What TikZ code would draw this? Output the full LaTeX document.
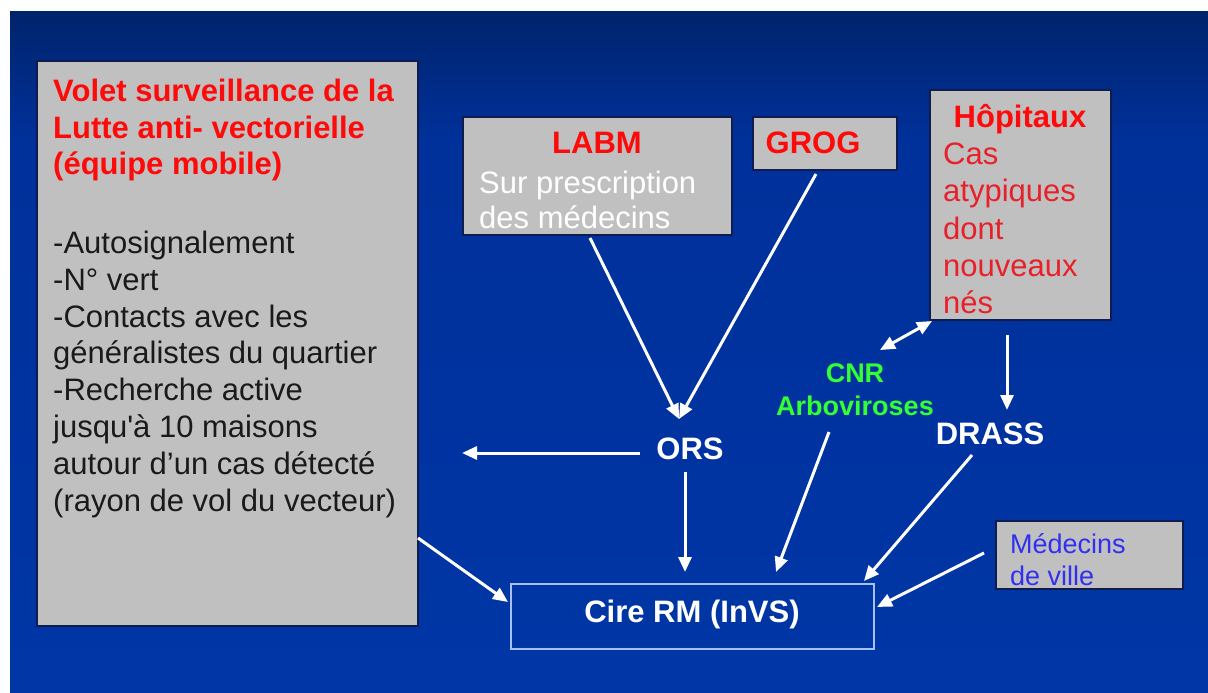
\documentclass[tikz,border=0pt]{standalone}
\usepackage{fontspec}
\setmainfont{Liberation Sans}
\usetikzlibrary{arrows.meta}
\definecolor{bgtop}{HTML}{00246C}
\definecolor{bgmid}{HTML}{00309A}
\definecolor{bgbot}{HTML}{0036A6}
\definecolor{boxgray}{HTML}{C0C0C0}
\definecolor{boxline}{HTML}{101C4E}
\definecolor{tred}{HTML}{FF0A0A}
\definecolor{tred2}{HTML}{E8202A}
\definecolor{tgreen}{HTML}{33FF33}
\definecolor{tblue}{HTML}{3030F0}
\definecolor{tblack}{HTML}{1A1A1A}
\definecolor{cireline}{HTML}{A8C0F0}
\tikzset{
  graybox/.style={draw=boxline, line width=1.5pt, fill=boxgray, inner sep=0pt},
  cirebox/.style={draw=cireline, line width=1.5pt, inner sep=0pt},
  big/.style={font=\fontsize{31}{37}\selectfont, inner sep=0pt},
  bigb/.style={font=\fontsize{31}{37}\selectfont\bfseries, inner sep=0pt},
  mid/.style={font=\fontsize{27}{33}\selectfont, inner sep=0pt},
  midb/.style={font=\fontsize{27}{33}\selectfont\bfseries, inner sep=0pt},
  arr/.style={draw=white, line width=3pt, -{Triangle[length=15pt,width=13pt]}},
  darr/.style={draw=white, line width=3pt, {Triangle[length=15pt,width=13pt]}-{Triangle[length=15pt,width=13pt]}},
}
\begin{document}
\begin{tikzpicture}[x=1pt,y=-1pt]
\useasboundingbox (0,0) rectangle (1208,693);
\fill[white] (0,0) rectangle (1208,693);
\shade[top color=bgtop, bottom color=bgmid] (10,12) rectangle (1208,140);
\shade[top color=bgmid, bottom color=bgbot] (10,139.5) rectangle (1208,693);

% boxes
\node[graybox, minimum width=381pt, minimum height=565pt] (vol) at (227.5,343.5) {};
\node[graybox, minimum width=269pt, minimum height=118pt] (labm) at (597.5,176) {};
\node[graybox, minimum width=144pt, minimum height=53pt] (grog) at (825,143.5) {};
\node[graybox, minimum width=181pt, minimum height=230pt] (hop) at (1020.5,205) {};
\node[graybox, minimum width=187pt, minimum height=68pt] (med) at (1089.5,555) {};
\node[cirebox, minimum width=363pt, minimum height=65pt] (cire) at (692.5,616.5) {};

% left box texts
\node[bigb, text=tred, anchor=base west] (vt1) at (53,101) {Volet surveillance de la};
\node[bigb, text=tred, anchor=base west] (vt2) at (53,138) {Lutte anti- vectorielle};
\node[bigb, text=tred, anchor=base west] (vt3) at (53,174) {(équipe mobile)};
\node[big, text=tblack, anchor=base west] (vb1) at (53,253) {-Autosignalement};
\node[big, text=tblack, anchor=base west] (vb2) at (53,290) {-N° vert};
\node[big, text=tblack, anchor=base west] (vb3) at (53,327) {-Contacts avec les};
\node[big, text=tblack, anchor=base west] (vb4) at (53,363) {généralistes du quartier};
\node[big, text=tblack, anchor=base west] (vb5) at (53,400) {-Recherche active};
\node[big, text=tblack, anchor=base west] (vb6) at (53,437) {jusqu\textquotesingle à 10 maisons};
\node[big, text=tblack, anchor=base west] (vb7) at (53,474) {autour d’un cas détecté};
\node[big, text=tblack, anchor=base west] (vb8) at (53,511) {(rayon de vol du vecteur)};

% LABM
\node[bigb, text=tred, anchor=base] (labmt) at (597,153) {LABM};
\node[big, text=white, anchor=base west] (labm1) at (479,193) {Sur prescription};
\node[big, text=white, anchor=base west] (labm2) at (479,228) {des médecins};

% GROG
\node[bigb, text=tred, anchor=base] (grogt) at (813,153) {GROG};

% Hopitaux
\node[bigb, text=tred, anchor=base] (hopt) at (1020,127) {Hôpitaux};
\node[big, text=tred2, anchor=base west] (hop1) at (943,164) {Cas};
\node[big, text=tred2, anchor=base west] (hop2) at (943,201) {atypiques};
\node[big, text=tred2, anchor=base west] (hop3) at (943,239) {dont};
\node[big, text=tred2, anchor=base west] (hop4) at (943,276) {nouveaux};
\node[big, text=tred2, anchor=base west] (hop5) at (943,313) {nés};

% free labels
\node[midb, text=tgreen, anchor=base] (cnr1) at (855,382) {CNR};
\node[midb, text=tgreen, anchor=base] (cnr2) at (855,415) {Arboviroses};
\node[bigb, text=white, anchor=base] (ors) at (690,459) {ORS};
\node[bigb, text=white, anchor=base] (drass) at (990,444) {DRASS};
\node[bigb, text=white, anchor=base] (ciret) at (692,622) {Cire RM (InVS)};

% medecins de ville
\node[mid, text=tblue, anchor=base west] (med1) at (1010,553) {Médecins};
\node[mid, text=tblue, anchor=base west] (med2) at (1010,585) {de ville};

% connector end points
\coordinate (labmout) at (590,238);
\coordinate (grogout) at (816,174);
\coordinate (orsin) at (679,419);
\coordinate (orsleft) at (640,453);
\coordinate (volin) at (462,453);
\coordinate (orsdown) at (685,472);
\coordinate (cirein1) at (685,572);
\coordinate (cnrout) at (829,432);
\coordinate (cirein2) at (776,572);
\coordinate (drassout) at (972,455);
\coordinate (cirein3) at (864,581);
\coordinate (medout) at (984,553);
\coordinate (cirein4) at (877,607);
\coordinate (volout) at (418,538);
\coordinate (cirein5) at (508,602);
\coordinate (hopcorner) at (932,321);
\coordinate (cnrin) at (880,350);
\coordinate (hopdown) at (1007,335);
\coordinate (drassin) at (1007,410);

% connectors
\draw[arr] (labmout) -- (orsin);
\draw[arr] (grogout) -- (orsin);
\draw[arr] (orsleft) -- (volin);
\draw[arr] (orsdown) -- (cirein1);
\draw[arr] (cnrout) -- (cirein2);
\draw[arr] (drassout) -- (cirein3);
\draw[arr] (medout) -- (cirein4);
\draw[arr] (volout) -- (cirein5);
\draw[darr] (cnrin) -- (hopcorner);
\draw[arr] (hopdown) -- (drassin);
\end{tikzpicture}
\end{document}
